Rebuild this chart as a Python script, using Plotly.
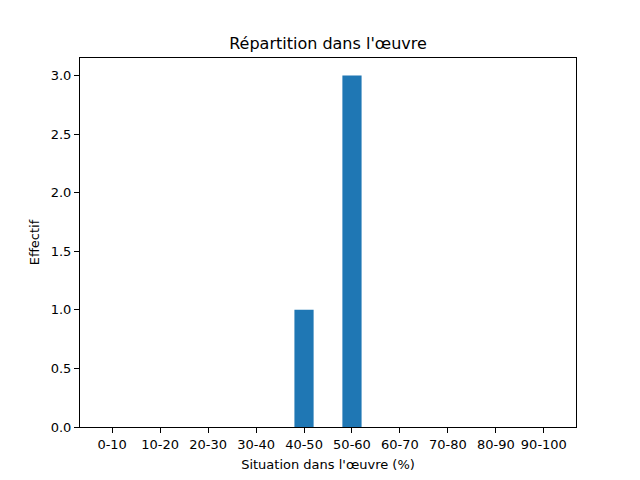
import plotly.graph_objects as go

categories = ["0-10", "10-20", "20-30", "30-40", "40-50", "50-60", "60-70", "70-80", "80-90", "90-100"]
counts = [0, 0, 0, 0, 1, 3, 0, 0, 0, 0]
y_ticks = [0.0, 0.5, 1.0, 1.5, 2.0, 2.5, 3.0]

fig = go.Figure()
fig.add_trace(go.Bar(
    x=list(range(len(categories))), y=counts, width=0.4,
    marker=dict(color="#1f77b4", line=dict(width=0)),
))

font = "DejaVu Sans"
fig.update_layout(
    width=640, height=480,
    margin=dict(l=72, r=72, t=50, b=61),
    paper_bgcolor="white", plot_bgcolor="white",
    showlegend=False,
    font=dict(family=font, size=13, color="black"),
    title=dict(text="Répartition dans l'œuvre", x=0.5, xanchor="center",
               y=1 - 35 / 480, yanchor="middle", font=dict(size=16, family=font)),
    xaxis=dict(
        range=[-0.67, 9.67], tickmode="array",
        tickvals=list(range(len(categories))), ticktext=categories,
        showgrid=False, zeroline=False, showline=True, linecolor="black", linewidth=1,
        mirror=True, ticks="outside", ticklen=5, tickcolor="black",
        title=dict(text="Situation dans l'œuvre (%)", font=dict(size=13), standoff=9),
        tickfont=dict(size=13),
    ),
    yaxis=dict(
        range=[0, 3.15], tickmode="array", tickvals=y_ticks,
        ticktext=[f"{v:.1f}" for v in y_ticks],
        showgrid=False, zeroline=False, showline=True, linecolor="black", linewidth=1,
        mirror=True, ticks="outside", ticklen=5, tickcolor="black",
        title=dict(text="Effectif", font=dict(size=13), standoff=8),
        tickfont=dict(size=13),
    ),
)

fig.write_html("out.html")
